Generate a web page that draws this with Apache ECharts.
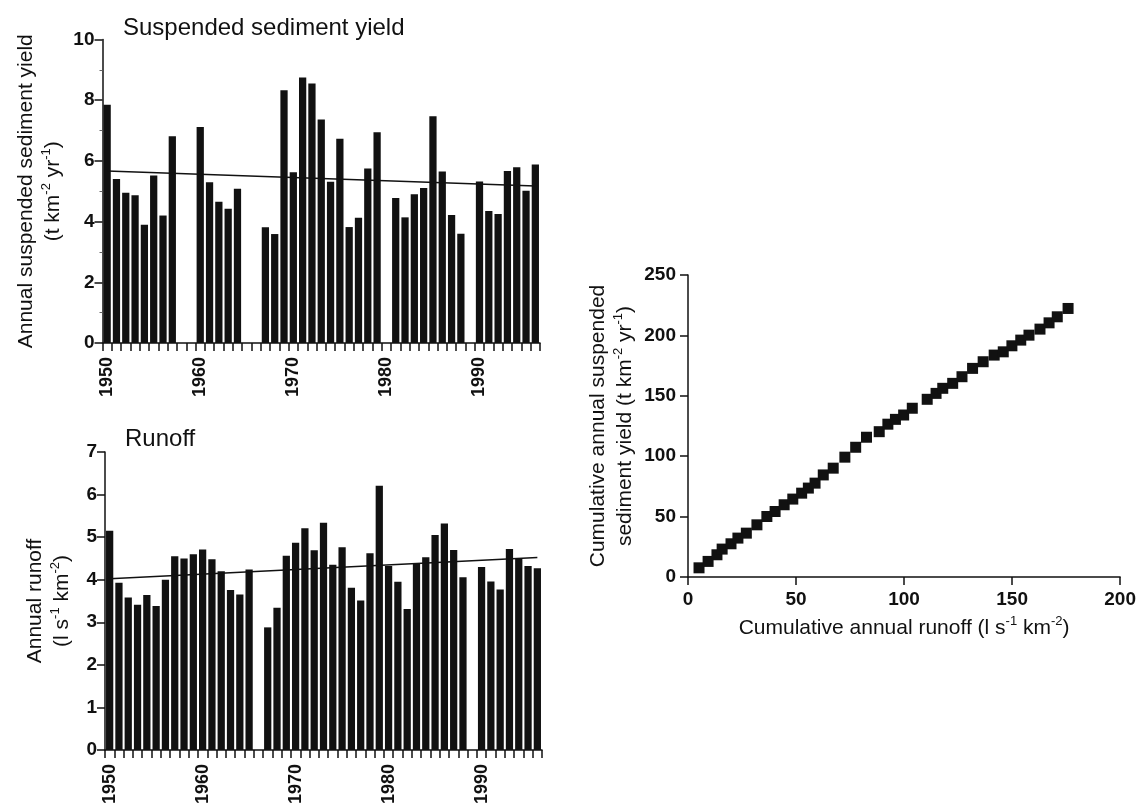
<!DOCTYPE html>
<html>
<head>
<meta charset="utf-8">
<script src="https://cdn.jsdelivr.net/npm/echarts@6/dist/echarts.min.js"></script>
<style>
html,body{margin:0;padding:0;background:#fff;}
#c{width:1139px;height:807px;}
</style>
</head>
<body>
<div id="c"></div>
<script>
// ---- data ----
const years = ['1950','1951','1952','1953','1954','1955','1956','1957','1958','1959',
  '1960','1961','1962','1963','1964','1965','1966','1967','1968','1969',
  '1970','1971','1972','1973','1974','1975','1976','1977','1978','1979',
  '1980','1981','1982','1983','1984','1985','1986','1987','1988','1989',
  '1990','1991','1992','1993','1994','1995','1996'];

const sedimentYield = [7.85,5.40,4.95,4.87,3.90,5.52,4.20,6.81,null,null,
  7.12,5.30,4.65,4.42,5.08,null,null,3.81,3.59,8.33,
  5.63,8.75,8.55,7.36,5.31,6.73,3.82,4.13,5.75,6.94,
  null,4.78,4.14,4.90,5.11,7.47,5.65,4.22,3.60,null,
  5.32,4.35,4.25,5.67,5.79,5.02,5.88];

const runoff = [5.15,3.93,3.58,3.41,3.64,3.38,4.00,4.55,4.50,4.60,
  4.71,4.48,4.20,3.76,3.65,4.24,null,2.88,3.34,4.56,
  4.87,5.21,4.69,5.34,4.35,4.76,3.81,3.51,4.62,6.21,
  4.32,3.95,3.31,4.39,4.53,5.05,5.32,4.70,4.06,null,
  4.30,3.96,3.77,4.72,4.49,4.32,4.27];

// trend line end values (first year, last year)
const sedimentTrend = [5.67, 5.17];
const runoffTrend = [4.02, 4.52];

// cumulative plot
const cumRunoff = [5.1,9.3,13.4,15.8,19.9,23.1,27.0,31.9,36.5,40.3,
  44.5,48.5,52.6,55.7,58.8,62.6,67.2,72.6,77.6,82.6,
  88.5,92.5,96.0,99.8,103.8,110.7,114.8,117.9,122.5,126.8,
  131.7,136.6,141.7,145.9,149.9,154.0,157.8,162.9,167.1,170.9,175.9];
const cumSediment = [7.6,12.9,18.4,23.1,27.5,32.2,36.3,43.2,50.1,54.2,
  59.8,64.5,69.4,73.6,77.7,84.5,90.1,99.2,107.4,115.7,
  120.3,126.5,130.5,134.1,139.7,147.1,152.0,156.2,160.3,165.8,
  172.7,178.2,183.7,186.4,191.4,196.1,200.2,205.2,210.4,215.4,222.3];

const sedTicks = {min:0, max:10, interval:2};
const runTicks = {min:0, max:7, interval:1};
const cumXTicks = {min:0, max:200, interval:50};
const cumYTicks = {min:0, max:250, interval:50};

// ---- chart ----
const FONT = '"Liberation Sans", Arial, Helvetica, sans-serif';
const INK = '#111';
const nameRich = {
  n: {fontSize: 21, fontFamily: FONT, color: INK, lineHeight: 27},
  s: {fontSize: 13, fontFamily: FONT, color: INK, verticalAlign: 'top', lineHeight: 27}
};
const axisLineS = {show: true, lineStyle: {color: INK, width: 1.5}};
const tickS = {show: true, length: 7, lineStyle: {color: INK, width: 1.5}};
const labelS = {color: INK, fontSize: 19, fontWeight: 'bold', fontFamily: FONT};

const chart = echarts.init(document.getElementById('c'), null, {renderer: 'canvas'});

function catAxis(gridIndex) {
  return {
    type: 'category', gridIndex, data: years, boundaryGap: true,
    axisLine: axisLineS,
    axisTick: Object.assign({}, tickS, {interval: 0, length: 8, alignWithLabel: false}),
    axisLabel: Object.assign({}, labelS, {
      fontSize: 18, rotate: 90, margin: 14,
      interval: function (idx, val) { return Number(val) % 10 === 0; }
    }),
    splitLine: {show: false}
  };
}

const option = {
  animation: false,
  backgroundColor: '#fff',
  title: [
    {text: 'Suspended sediment yield', left: 118, top: 11,
     textStyle: {fontSize: 24, fontWeight: 'normal', color: INK, fontFamily: FONT}},
    {text: 'Runoff', left: 120, top: 422,
     textStyle: {fontSize: 24, fontWeight: 'normal', color: INK, fontFamily: FONT}}
  ],
  grid: [
    {left: 102.5, top: 39.5, width: 437.5, height: 303.5},
    {left: 105, top: 452, width: 437, height: 305},
    {left: 688, top: 275, width: 433, height: 302}
  ],
  xAxis: [
    catAxis(0),
    catAxis(1),
    {
      type: 'value', gridIndex: 2, min: cumXTicks.min, max: cumXTicks.max, interval: cumXTicks.interval,
      axisLine: axisLineS, axisTick: Object.assign({}, tickS, {length: 8}),
      axisLabel: Object.assign({}, labelS, {margin: 13}),
      splitLine: {show: false},
      name: '{n|Cumulative annual runoff (l s}{s|-1}{n| km}{s|-2}{n|)}',
      nameLocation: 'middle', nameGap: 38,
      nameTextStyle: {rich: nameRich}
    }
  ],
  yAxis: [
    {
      type: 'value', gridIndex: 0, min: sedTicks.min, max: sedTicks.max, interval: sedTicks.interval,
      axisLine: axisLineS, axisTick: Object.assign({}, tickS, {length: 8}),
      minorTick: {show: true, splitNumber: 2, length: 3, lineStyle: {color: '#666', width: 1}},
      axisLabel: Object.assign({}, labelS, {margin: 8}),
      splitLine: {show: false},
      name: '{n|Annual suspended sediment yield}\n{n|(t km}{s|-2}{n| yr}{s|-1}{n|)}',
      nameLocation: 'middle', nameGap: 36, nameRotate: 90,
      nameTextStyle: {rich: nameRich}
    },
    {
      type: 'value', gridIndex: 1, min: runTicks.min, max: runTicks.max, interval: runTicks.interval,
      axisLine: axisLineS, axisTick: Object.assign({}, tickS, {length: 8}),
      axisLabel: Object.assign({}, labelS, {margin: 8}),
      splitLine: {show: false},
      name: '{n|Annual runoff}\n{n|(l s}{s|-1}{n| km}{s|-2}{n|)}',
      nameLocation: 'middle', nameGap: 29, nameRotate: 90,
      nameTextStyle: {rich: nameRich}
    },
    {
      type: 'value', gridIndex: 2, min: cumYTicks.min, max: cumYTicks.max, interval: cumYTicks.interval,
      axisLine: axisLineS, axisTick: Object.assign({}, tickS, {length: 8}),
      axisLabel: Object.assign({}, labelS, {margin: 12}),
      splitLine: {show: false},
      name: '{n|Cumulative annual suspended}\n{n|sediment yield (t km}{s|-2}{n| yr}{s|-1}{n|)}',
      nameLocation: 'middle', nameGap: 49, nameRotate: 90,
      nameTextStyle: {rich: nameRich}
    }
  ],
  series: [
    {type: 'bar', xAxisIndex: 0, yAxisIndex: 0, data: sedimentYield, barWidth: '78%',
     itemStyle: {color: INK}, silent: true},
    {type: 'line', xAxisIndex: 0, yAxisIndex: 0, symbol: 'none',
     data: [[years[0], sedimentTrend[0]], [years[years.length - 1], sedimentTrend[1]]],
     lineStyle: {color: INK, width: 1.5}, z: 5},
    {type: 'bar', xAxisIndex: 1, yAxisIndex: 1, data: runoff, barWidth: '78%',
     itemStyle: {color: INK}, silent: true},
    {type: 'line', xAxisIndex: 1, yAxisIndex: 1, symbol: 'none',
     data: [[years[0], runoffTrend[0]], [years[years.length - 1], runoffTrend[1]]],
     lineStyle: {color: INK, width: 1.5}, z: 5},
    {type: 'scatter', xAxisIndex: 2, yAxisIndex: 2, symbol: 'rect', symbolSize: 11,
     data: cumRunoff.map((v, i) => [v, cumSediment[i]]),
     itemStyle: {color: INK, opacity: 1}}
  ]
};
chart.setOption(option);
</script>
</body>
</html>
